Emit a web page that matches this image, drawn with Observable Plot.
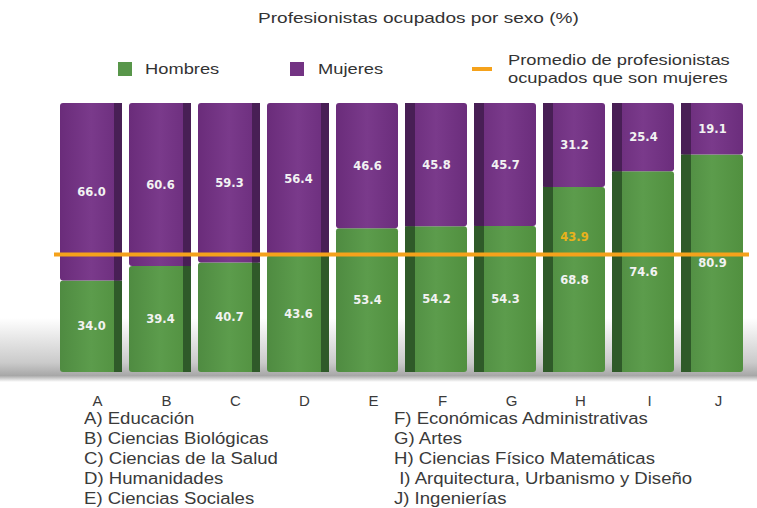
<!DOCTYPE html>
<html>
<head>
<meta charset="utf-8">
<script src="https://cdn.jsdelivr.net/npm/d3@7"></script>
<script src="https://cdn.jsdelivr.net/npm/@observablehq/plot@0.6"></script>
<style>
  html, body { margin: 0; padding: 0; background: #fff; }
  #wrap { position: relative; width: 757px; height: 508px; overflow: hidden; font-family: "Liberation Sans", Arial, sans-serif; color: #333; }
  .abs { position: absolute; white-space: nowrap; transform-origin: 0 0; }
  .wide { transform: scaleX(1.22); }
  .sw { position: absolute; width: 14px; height: 14px; }
  #shadow { position: absolute; left: 0; top: 318px; width: 757px; height: 64px;
    background: linear-gradient(to bottom, rgba(255,255,255,0) 0%, rgba(150,150,150,0.5) 70%, rgba(120,120,120,0.65) 90%, rgba(255,255,255,0) 100%); }
  #chart { position: absolute; left: 0; top: 90px; }
  .list { position: absolute; top: 409px; font-size: 16px; line-height: 20px; color: #3a3a3a; white-space: nowrap; transform: scaleX(1.16); transform-origin: 0 0; }
</style>
</head>
<body>
<div id="wrap">
  <div class="abs" style="left:258px; top:9px; font-size:15px; transform: scaleX(1.27);">Profesionistas ocupados por sexo (%)</div>
  <div class="sw" style="left:118px; top:62px; background:#58964a;"></div>
  <div class="abs wide" style="left:145px; top:60px; font-size:15px;">Hombres</div>
  <div class="sw" style="left:290px; top:62px; background:#733383;"></div>
  <div class="abs wide" style="left:318px; top:60px; font-size:15px;">Mujeres</div>
  <div class="abs" style="left:472px; top:67px; width:20px; height:4px; background:#f5a21b;"></div>
  <div class="abs wide" style="left:508px; top:51px; font-size:15px; line-height:18px;">Promedio de profesionistas<br>ocupados que son mujeres</div>
  <div id="shadow"></div>
  <div id="chart"></div>
  <div class="list" id="listL" style="left:84px;"></div>
  <div class="list" id="listR" style="left:394px;"></div>
</div>
<script>
const letras = ["A","B","C","D","E","F","G","H","I","J"];
const hombres = [34.0, 39.4, 40.7, 43.6, 53.4, 54.2, 54.3, 68.8, 74.6, 80.9];
const mujeres = [66.0, 60.6, 59.3, 56.4, 46.6, 45.8, 45.7, 31.2, 25.4, 19.1];
const areas = ["Educación", "Ciencias Biológicas", "Ciencias de la Salud", "Humanidades", "Ciencias Sociales",
  "Económicas Administrativas", "Artes", "Ciencias Físico Matemáticas", "Arquitectura, Urbanismo y Diseño", "Ingenierías"];
const promedioMujeres = 43.9;
const promedioEtiquetaEn = "H";
const ladoDerecho = ["A","B","C","D"];       // bars whose dark side is on the right
const ladoIzquierdo = ["F","G","H","I","J"]; // bars whose dark side is on the left

const rows = letras.map((l, i) => ({letra: l, hombres: hombres[i], mujeres: mujeres[i]}));

const verdeOsc = "#2f5a29";
const moradoOsc = "#481f55";
const etiqueta = {fill: "#f2f2f2", fontWeight: "bold", fontSize: 11.5, fontFamily: "DejaVu Sans, sans-serif"};

const plot = Plot.plot({
  width: 757,
  height: 320,
  marginTop: 13,
  marginBottom: 38,
  marginLeft: 58,
  marginRight: 12,
  x: {domain: letras, paddingInner: 0.1, paddingOuter: 0, label: null},
  y: {domain: [0, 100], axis: null},
  style: {background: "transparent", fontFamily: "Liberation Sans, Arial, sans-serif"},
  marks: [
    Plot.axisX({tickSize: 0, tickPadding: 23, dx: 6, fontSize: 15, color: "#3a3a3a", label: null}),
    Plot.barY(rows, {x: "letra", y1: 0, y2: "hombres", fill: "url(#gVerde)", rx: 3}),
    Plot.barY(rows, {x: "letra", y1: "hombres", y2: d => d.hombres + d.mujeres, fill: "url(#gMorado)", rx: 3}),
    Plot.barY(rows.filter(d => ladoDerecho.includes(d.letra)), {x: "letra", y1: 0, y2: "hombres", fill: verdeOsc, insetLeft: 54}),
    Plot.barY(rows.filter(d => ladoDerecho.includes(d.letra)), {x: "letra", y1: "hombres", y2: d => d.hombres + d.mujeres, fill: moradoOsc, insetLeft: 54}),
    Plot.barY(rows.filter(d => ladoIzquierdo.includes(d.letra)), {x: "letra", y1: 0, y2: "hombres", fill: verdeOsc, insetRight: 52}),
    Plot.barY(rows.filter(d => ladoIzquierdo.includes(d.letra)), {x: "letra", y1: "hombres", y2: d => d.hombres + d.mujeres, fill: moradoOsc, insetRight: 52}),
    Plot.ruleY([promedioMujeres], {stroke: "#f5a21b", strokeWidth: 4, inset: -4}),
    Plot.text(rows, {x: "letra", y: d => d.hombres / 2, text: d => d.hombres.toFixed(1), ...etiqueta}),
    Plot.text(rows, {x: "letra", y: d => d.hombres + d.mujeres / 2, text: d => d.mujeres.toFixed(1), ...etiqueta}),
    Plot.text(rows.filter(d => d.letra === promedioEtiquetaEn), {x: "letra", y: () => promedioMujeres, dy: -17, text: () => promedioMujeres.toFixed(1), ...etiqueta, fill: "#e9b21c"})
  ]
});

// gradients for a subtle 3D look
const ns = "http://www.w3.org/2000/svg";
const defs = document.createElementNS(ns, "defs");
function grad(id, c1, c2, c3) {
  const g = document.createElementNS(ns, "linearGradient");
  g.setAttribute("id", id);
  g.setAttribute("x1", "0"); g.setAttribute("x2", "1"); g.setAttribute("y1", "0"); g.setAttribute("y2", "0");
  [[0, c1], [0.5, c2], [1, c3]].forEach(([o, c]) => {
    const s = document.createElementNS(ns, "stop");
    s.setAttribute("offset", o); s.setAttribute("stop-color", c);
    g.appendChild(s);
  });
  defs.appendChild(g);
}
grad("gVerde", "#4f8b41", "#5c9c4c", "#51903f");
grad("gMorado", "#6a2c7a", "#7a3a8b", "#6b2d7c");
plot.insertBefore(defs, plot.firstChild);

document.getElementById("chart").appendChild(plot);

const fmt = (l, i) => (l === "I" ? "\u00a0" : "") + l + ") " + areas[i];
document.getElementById("listL").innerHTML = letras.slice(0, 5).map((l, i) => fmt(l, i)).join("<br>");
document.getElementById("listR").innerHTML = letras.slice(5).map((l, i) => fmt(l, i + 5)).join("<br>");
</script>
</body>
</html>
